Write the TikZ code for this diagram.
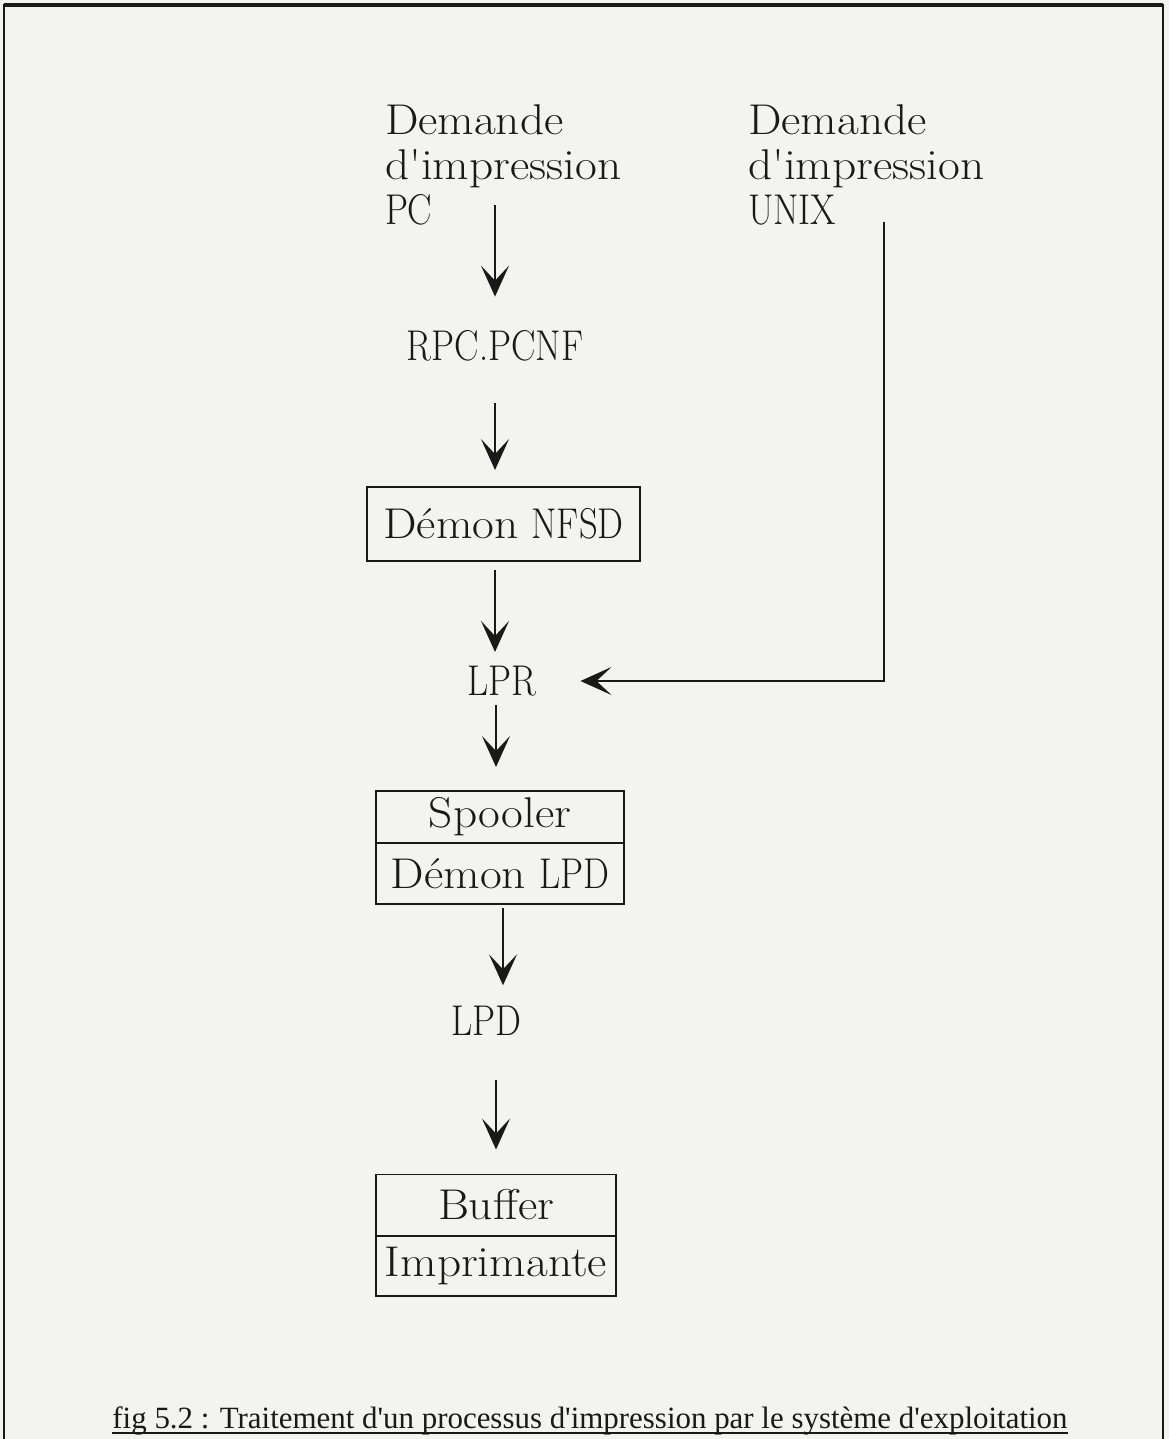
\documentclass[tikz,border=0pt]{standalone}
\usepackage{fontspec}
\usepackage{graphicx}
\newfontfamily\capfont{Liberation Serif}
\usetikzlibrary{arrows.meta}
\newcommand\cx[1]{\scalebox{0.85}[1]{#1}}
\newcommand\lx[1]{\scalebox{1.1}[1]{#1}}
\definecolor{bgcol}{RGB}{243,243,241}
\definecolor{inkcol}{RGB}{25,25,25}
\begin{document}
\begin{tikzpicture}[x=0.02cm,y=-0.02cm,
  lbl/.style={inner sep=0pt, outer sep=0pt, text=inkcol, font=\fontsize{24.5}{25.5}\selectfont},
  blk/.style={lbl, align=left, anchor=north west},
  boxnode/.style={lbl, draw=inkcol, line width=1.1pt, minimum width=#1},
  arr/.style={draw=inkcol, line width=1.1pt, -{Stealth[length=0.62cm,width=0.56cm,inset=0.3cm]}},
  frame/.style={draw=inkcol, line width=1.2pt}
]
\useasboundingbox (0,0) rectangle (1169,1439);
\fill[bgcol] (0,0) rectangle (1169,1439);
% frame
\draw[frame] (4,1439) -- (4,5) -- (1163,5) -- (1163,1439);
\draw[inkcol, line width=1.8pt] (4,5) -- (1163,5);

% nodes
\node[blk] (pcblk) at (385,105) {\lx{Demande}\\\lx{d\textquotesingle impression}\\\cx{PC}};
\node[blk] (unixblk) at (748,105) {\lx{Demande}\\\lx{d\textquotesingle impression}\\\cx{UNIX}};
\node[lbl] (rpc) at (495,346) {\cx{RPC.PCNF}};
\node[boxnode=5.46cm, minimum height=1.48cm] (nfsd) at (503.5,524) {\lx{Démon} \cx{NFSD}};
\node[lbl] (lpr) at (502,681) {\cx{LPR}};
\node[boxnode=4.96cm, minimum height=1.04cm] (spool) at (500,817) {\lx{Spooler}};
\node[boxnode=4.96cm, minimum height=1.22cm] (dlpd) at (500,873.5) {\lx{Démon} \cx{LPD}};
\node[lbl] (lpd) at (486,1021) {\cx{LPD}};
\node[boxnode=4.8cm, minimum height=1.22cm] (buf) at (496,1205) {\lx{Buffer}};
\node[boxnode=4.8cm, minimum height=1.2cm] (impr) at (496,1266) {\lx{Imprimante}};
\node[inner sep=0pt, text=inkcol, font=\capfont\fontsize{17.6}{20}\selectfont, anchor=base] (cap) at (590,1428)
  {fig 5.2 : Traitement d\textquotesingle un processus d\textquotesingle impression par le système d\textquotesingle exploitation};
\draw[inkcol, line width=1.1pt] ([yshift=-3pt]cap.base west) -- ([yshift=-3pt]cap.base east);

% column helpers
\coordinate (colx) at (495,0);
\coordinate (coly) at (496,0);
\coordinate (colz) at (503,0);
\coordinate (pcout) at (495,205);
\coordinate (uxout) at (884,222);

% connectors
\draw[arr, shorten >=0.68cm] (pcout) -- (pcout |- rpc.north);
\draw[arr, shorten <=0.84cm, shorten >=0.34cm] (rpc.south -| colx) -- (nfsd.north -| colx);
\draw[arr, shorten <=0.18cm, shorten >=0.28cm] (nfsd.south -| colx) -- (lpr.north -| colx);
\draw[arr, shorten <=0.18cm, shorten >=0.48cm] (lpr.south -| coly) -- (spool.north -| coly);
\draw[arr, shorten <=0.08cm, shorten >=0.42cm] (dlpd.south -| colz) -- (lpd.north -| colz);
\draw[arr, shorten <=0.88cm, shorten >=0.5cm] (lpd.south -| coly) -- (buf.north -| coly);
\draw[arr, shorten >=0.88cm] (uxout) |- (lpr.east);
\end{tikzpicture}
\end{document}
